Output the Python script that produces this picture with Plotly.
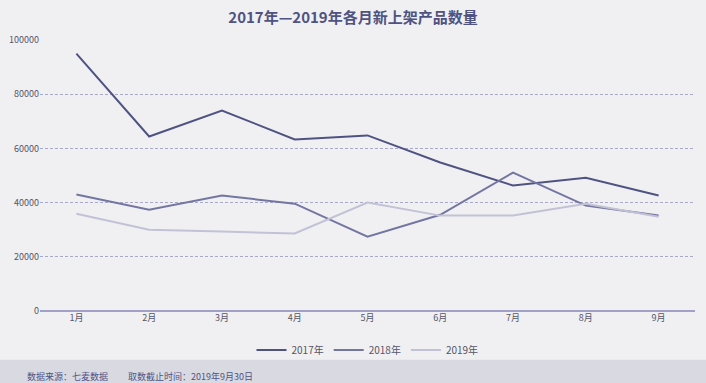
import plotly.graph_objects as go

months = ["1月", "2月", "3月", "4月", "5月", "6月", "7月", "8月", "9月"]
y2017 = [95000, 64400, 74000, 63300, 64800, 54800, 46300, 49200, 42600]
y2018 = [43000, 37400, 42600, 39600, 27400, 35500, 51100, 38900, 35200]
y2019 = [35900, 30000, 29300, 28600, 40000, 35200, 35200, 39600, 34800]
series_names = ["2017年", "2018年", "2019年"]
y_ticks = [0, 20000, 40000, 60000, 80000, 100000]

colors = ["#4f5382", "#7476a2", "#c2c2d6"]
font_family = "Noto Sans CJK SC, Noto Sans, sans-serif"

fig = go.Figure()
for name, ys, c in zip(series_names, [y2017, y2018, y2019], colors):
    fig.add_trace(go.Scatter(x=months, y=ys, name=name, mode="lines",
                             line=dict(color=c, width=2)))

fig.update_layout(
    width=706, height=383,
    paper_bgcolor="#f0f0f2", plot_bgcolor="#f0f0f2",
    margin=dict(l=40, r=11, t=40, b=72, autoexpand=False),
    title=dict(text="<b>2017年—2019年各月新上架产品数量</b>", x=0.5, xanchor="center",
               y=0.953, yanchor="middle",
               font=dict(size=15, color="#4f5382", family=font_family)),
    font=dict(family=font_family, size=9, color="#555566"),
    showlegend=True,
    legend=dict(orientation="h", x=0.5, xanchor="center", yref="container",
                y=0.086, yanchor="middle",
                font=dict(size=10, color="#555566"), itemwidth=30,
                bgcolor="rgba(0,0,0,0)"),
    xaxis=dict(type="category", range=[-0.5, 8.5], showgrid=False,
               showline=False, zeroline=False, ticks="", automargin=False,
               tickfont=dict(size=9, color="#555566")),
    yaxis=dict(range=[0, 100000], tickvals=y_ticks, showgrid=True,
               gridcolor="#a8a8c8", griddash="3px,2px", gridwidth=1,
               zeroline=True, zerolinecolor="#a0a0c8", zerolinewidth=1.5,
               showline=False, ticks="", tickformat="d", automargin=False,
               tickfont=dict(size=9, color="#555566")),
    shapes=[dict(type="rect", xref="paper", yref="paper", x0=-0.1, x1=1.1,
                 y0=-0.3, y1=-0.18, fillcolor="#d9d9e2", line=dict(width=0),
                 layer="below")],
    annotations=[dict(text="数据来源：七麦数据　　 取数截止时间：2019年9月30日",
                      xref="paper", yref="paper", x=-0.023, y=-0.24,
                      xanchor="left", yanchor="middle", showarrow=False,
                      font=dict(size=9, color="#4f5382", family=font_family))],
)

fig.write_html("out.html", config={"displayModeBar": False},
               post_script="document.body.style.margin='0';document.body.style.overflow='hidden';")
